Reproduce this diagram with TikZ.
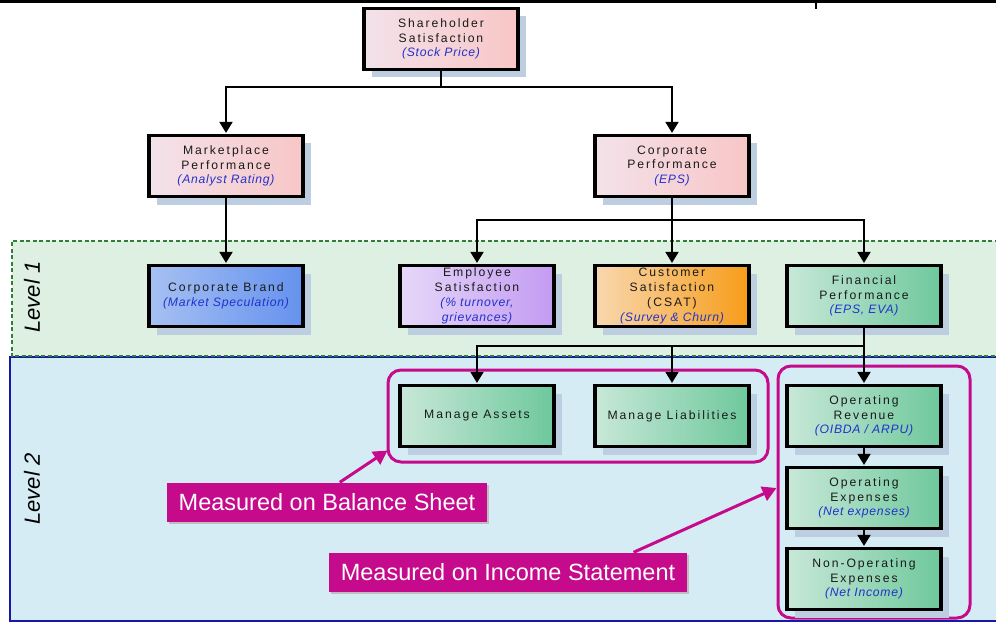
\documentclass[tikz,border=0pt]{standalone}
\usepackage{fontspec}
\usetikzlibrary{arrows.meta,shadows,calc}
\setmainfont{Liberation Sans}
\newfontfamily\boxfont[LetterSpace=16]{Liberation Sans}
\newfontfamily\subfont[LetterSpace=6]{Liberation Sans}
\newfontfamily\plainsans{Liberation Sans}

\definecolor{textc}{HTML}{1A1A1A}
\definecolor{subc}{HTML}{2232CC}
\definecolor{shadowc}{HTML}{BDCEE0}
\definecolor{pinkL}{HTML}{F3E2EA}
\definecolor{pinkD}{HTML}{F8C6C6}
\definecolor{blueL}{HTML}{A6C0F2}
\definecolor{blueD}{HTML}{6592EE}
\definecolor{purpL}{HTML}{E6D8F8}
\definecolor{purpD}{HTML}{C39BF2}
\definecolor{oranL}{HTML}{F8D8B0}
\definecolor{oranD}{HTML}{F79C18}
\definecolor{greenL}{HTML}{C8E8D8}
\definecolor{greenD}{HTML}{6EC89C}
\definecolor{lvlone}{HTML}{DDF0E2}
\definecolor{lvloneedge}{HTML}{2F7F36}
\definecolor{lvltwo}{HTML}{D6ECF5}
\definecolor{lvltwoedge}{HTML}{1818A8}
\definecolor{mag}{HTML}{C60A8C}

\newcommand{\subtxt}[1]{{\subfont\itshape\color{subc}#1}}

\tikzset{
  box/.style={draw=black, line width=3.2pt, minimum width=154pt, minimum height=61pt,
    align=center, inner sep=1pt, text=textc,
    font=\boxfont\fontsize{12.2}{14.8}\selectfont,
    drop shadow={shadow xshift=8pt, shadow yshift=-8pt, fill=shadowc, opacity=1}},
  pinkbox/.style={box, left color=pinkL, middle color=pinkD, right color=pinkD},
  bluebox/.style={box, left color=blueL, middle color=blueD, right color=blueD},
  purpbox/.style={box, left color=purpL, middle color=purpD, right color=purpD},
  oranbox/.style={box, left color=oranL, middle color=oranD, right color=oranD},
  greenbox/.style={box, left color=greenL, middle color=greenD, right color=greenD},
  conn/.style={line width=1.9pt, draw=black, -{Triangle[width=13pt,length=11pt]}, shorten >=1pt},
  frame/.style={draw=mag, line width=3pt, rounded corners=13pt, inner sep=0pt},
  callout/.style={fill=mag, text=white, inner xsep=12pt, inner ysep=0pt, minimum height=39pt,
    font=\plainsans\fontsize{23.5}{26}\selectfont,
    drop shadow={shadow xshift=2pt, shadow yshift=-2pt, fill=black!25, opacity=1}},
  magarrow/.style={draw=mag, line width=3pt, -{Triangle[width=15pt,length=14pt]}},
  lvltext/.style={rotate=90, font=\plainsans\itshape\fontsize{22}{24}\selectfont, text=black}
}

\begin{document}
\begin{tikzpicture}[x=1pt,y=-1pt]
\useasboundingbox (0,0) rectangle (996,623);
\begin{scope}
\clip (0,0) rectangle (996,623);

% level bands
\fill[lvltwo] (10,357) rectangle (1005,621);
\draw[lvltwoedge, line width=2pt] (1005,357) -- (10,357) -- (10,621) -- (1005,621);
\fill[lvlone] (12,241) rectangle (1005,356);
\draw[lvloneedge, line width=1.6pt, dash pattern=on 4pt off 2.5pt] (1005,241) -- (12,241) -- (12,356) -- (1005,356);
\node[lvltext] (lv1) at (32,297) {Level 1};
\node[lvltext] (lv2) at (32,489) {Level 2};

% header rule
\draw[line width=4pt] (0,1.5) -- (996,1.5);
\draw[line width=1.5pt] (816,0) -- (816,9);

% magenta groupings
\node[frame, minimum width=380pt, minimum height=92pt] (grpbal) at (578,416) {};
\node[frame, minimum width=192pt, minimum height=252pt] (grpinc) at (874,492) {};

% boxes
\node[pinkbox] (sh) at (441,39) {Shareholder\\Satisfaction\\\subtxt{(Stock Price)}};
\node[pinkbox] (mp) at (226,166) {Marketplace\\Performance\\\subtxt{(Analyst Rating)}};
\node[pinkbox] (cp) at (672,166) {Corporate\\Performance\\\subtxt{(EPS)}};

\node[bluebox] (brand) at (226,296) {Corporate Brand\\\subtxt{(Market Speculation)}};
\node[purpbox] (emp) at (477,296) {Employee\\Satisfaction\\\subtxt{(\% turnover,}\\\subtxt{grievances)}};
\node[oranbox] (cust) at (672,296) {Customer\\Satisfaction\\(CSAT)\\\subtxt{(Survey \& Churn)}};
\node[greenbox] (fin) at (864,296) {Financial\\Performance\\\subtxt{(EPS, EVA)}};

\node[greenbox] (assets) at (477,416) {Manage Assets};
\node[greenbox] (liab) at (672,416) {Manage Liabilities};
\node[greenbox] (orev) at (864,416) {Operating\\Revenue\\\subtxt{(OIBDA / ARPU)}};
\node[greenbox] (oexp) at (864,498) {Operating\\Expenses\\\subtxt{(Net expenses)}};
\node[greenbox] (nonop) at (864,579) {Non-Operating\\Expenses\\\subtxt{(Net Income)}};

% bus heights
\coordinate (busA) at (0,87);
\coordinate (busB) at (0,220);
\coordinate (busC) at (0,346);

% connectors
\draw[conn] (sh.south) -- (sh.south |- busA) -| (mp.north);
\draw[conn] (sh.south |- busA) -| (cp.north);
\draw[conn] (mp.south) -- (brand.north);
\draw[conn] (cp.south) -- (cust.north);
\draw[conn] (cp.south |- busB) -| (emp.north);
\draw[conn] (cp.south |- busB) -| (fin.north);
\draw[conn] (fin.south) -- (orev.north);
\draw[conn] (fin.south |- busC) -| (assets.north);
\draw[conn] (fin.south |- busC) -| (liab.north);
\draw[conn] (orev.south) -- (oexp.north);
\draw[conn] (oexp.south) -- (nonop.north);

% callouts
\node[callout, minimum width=318pt] (cbal) at (327,502) {Measured on Balance Sheet};
\node[callout, minimum width=356pt] (cinc) at (508,572) {Measured on Income Statement};
\draw[magarrow] ($(cbal.north west)!0.54!(cbal.north east)$) -- ($(grpbal.south west)+(1,-13)$);
\draw[magarrow] ($(cinc.north west)!0.85!(cinc.north east)$) -- ($(grpinc.west)+(0,-4)$);
\end{scope}
\end{tikzpicture}
\end{document}
